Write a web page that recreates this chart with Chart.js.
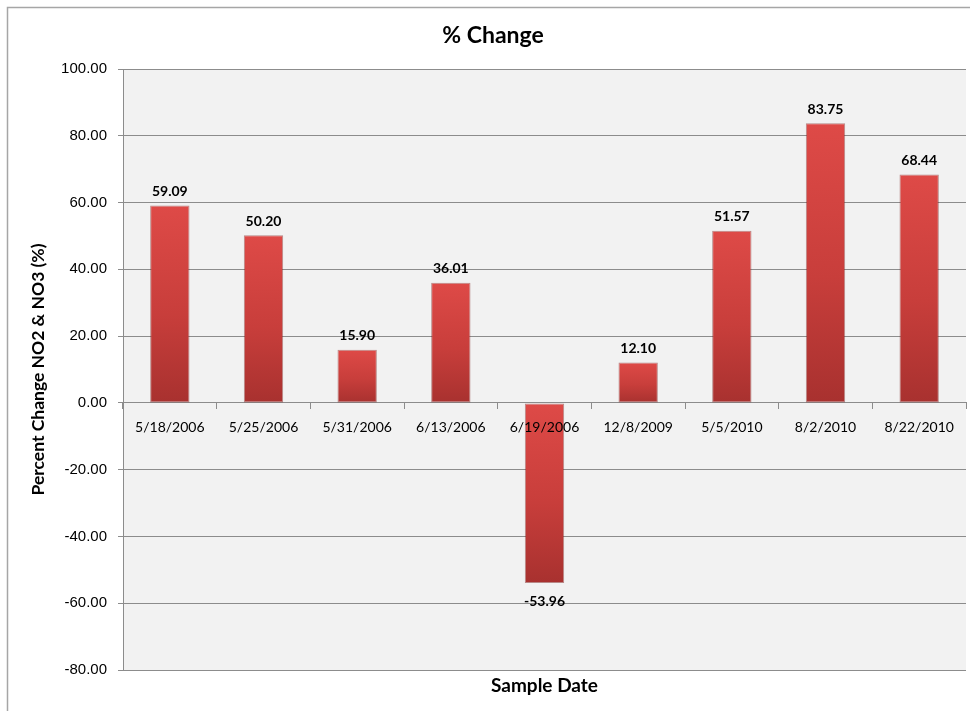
<!DOCTYPE html>
<html><head><meta charset="utf-8">
<script src="https://cdn.jsdelivr.net/npm/chart.js@4"></script>
<style>html,body{margin:0;padding:0;background:#fff;overflow:hidden;width:970px;height:711px;}</style>
</head><body>
<canvas id="c" width="989" height="711"></canvas>
<script>
const categories = ['5/18/2006','5/25/2006','5/31/2006','6/13/2006','6/19/2006','12/8/2009','5/5/2010','8/2/2010','8/22/2010'];
const percentChange = [59.09, 50.20, 15.90, 36.01, -53.96, 12.10, 51.57, 83.75, 68.44];
const yMin = -80, yMax = 100, yStep = 20;
const chartTitle = '% Change';
const xTitle = 'Sample Date';
const yTitle = 'Percent Change NO2 & NO3 (%)';

const GRID = '#8c8c8c';
const CAL = 'Lato, "Open Sans", sans-serif';

function barFill(ctx) {
  const chart = ctx.chart;
  const ys = chart.scales && chart.scales.y;
  const v = ctx.raw;
  if (!ys || !chart.chartArea || typeof v !== 'number') return '#c83a38';
  const top = ys.getPixelForValue(Math.max(v, 0));
  const bot = ys.getPixelForValue(Math.min(v, 0));
  const g = chart.ctx.createLinearGradient(0, top, 0, bot);
  g.addColorStop(0, '#de4a47');
  g.addColorStop(0.55, '#c83e3b');
  g.addColorStop(1, '#a8312f');
  return g;
}

const framePlugin = {
  id: 'frame',
  beforeDraw(chart) {
    const c = chart.ctx, a = chart.chartArea;
    c.save();
    c.fillStyle = '#ffffff';
    c.fillRect(0, 0, chart.width, chart.height);
    c.strokeStyle = '#a6a6a6';
    c.lineWidth = 1.5;
    c.strokeRect(7.5, 7.5, 974, 1200);
    c.fillStyle = '#f2f2f2';
    c.fillRect(a.left, a.top, a.right - a.left, a.bottom - a.top);
    c.restore();
  }
};

const valueLabelPlugin = {
  id: 'valueLabels',
  afterDatasetsDraw(chart) {
    const c = chart.ctx;
    const meta = chart.getDatasetMeta(0);
    const data = chart.data.datasets[0].data;
    c.save();
    c.font = 'bold 14px ' + CAL;
    c.fillStyle = '#000';
    c.textAlign = 'center';
    c.textBaseline = 'middle';
    meta.data.forEach((el, i) => {
      const v = data[i];
      const y = v >= 0 ? el.y - 14 : el.y + 18;
      c.fillText(v.toFixed(2), el.x, y);
    });
    c.restore();
  }
};

new Chart(document.getElementById('c'), {
  type: 'bar',
  data: {
    labels: categories,
    datasets: [{
      data: percentChange,
      backgroundColor: barFill,
      borderColor: 'rgba(125,30,28,0.5)',
      borderWidth: 1,
      borderSkipped: false,
      barPercentage: 0.42,
      categoryPercentage: 1.0
    }]
  },
  options: {
    responsive: false,
    animation: false,
    devicePixelRatio: 1,
    layout: { padding: { left: 20, right: 23, top: 0, bottom: 0 } },
    plugins: {
      legend: { display: false },
      tooltip: { enabled: false },
      title: {
        display: true, text: chartTitle, color: '#000',
        font: { family: CAL, size: 23, weight: 'bold', lineHeight: 1.2 },
        padding: { top: 22, bottom: 19.4 }
      }
    },
    scales: {
      x: {
        type: 'category',
        position: { y: 0 },
        grid: { display: true, drawOnChartArea: false, drawTicks: true, offset: true, tickLength: 6, color: GRID, lineWidth: 1 },
        border: { display: true, color: GRID, width: 1 },
        ticks: { z: 1, color: '#000', padding: 10, maxRotation: 0, autoSkip: false, font: { family: CAL, size: 14 } }
      },
      x2: {
        type: 'category',
        position: 'bottom',
        afterFit(scale) { scale.height = 41; },
        grid: { display: false, drawTicks: false, drawOnChartArea: false },
        border: { display: false },
        ticks: { display: false },
        title: {
          display: true, text: xTitle, color: '#000',
          font: { family: CAL, size: 19, weight: 'bold', lineHeight: 1.2 },
          padding: { top: 13.6, bottom: 13.6 }
        }
      },
      y: {
        min: yMin, max: yMax,
        afterFit(scale) { scale.width = 103; },
        grid: { color: GRID, lineWidth: 1, tickLength: 5, drawTicks: true },
        border: { display: true, color: GRID, width: 1 },
        ticks: {
          stepSize: yStep, color: '#000', padding: 11,
          font: { family: '"Liberation Sans", Arial, sans-serif', size: 15 },
          callback: v => Number(v).toFixed(2)
        },
        title: {
          display: true, text: yTitle, color: '#000',
          font: { family: CAL, size: 17.5, weight: 'bold', lineHeight: 1.2 },
          padding: { top: 7.5, bottom: 0 }
        }
      }
    }
  },
  plugins: [framePlugin, valueLabelPlugin]
});
</script>
</body></html>
